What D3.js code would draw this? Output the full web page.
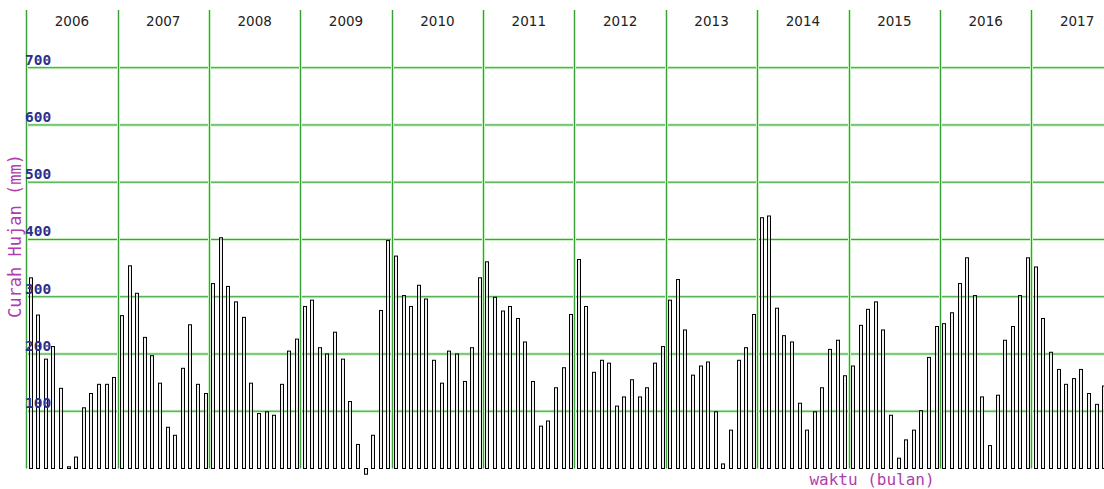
<!DOCTYPE html>
<html>
<head>
<meta charset="utf-8">
<script src="https://cdn.jsdelivr.net/npm/d3@7"></script>
<style>
  body { margin: 0; background: #fff; }
  svg { display: block; }
</style>
</head>
<body>
<div id="chart"></div>
<script>
(() => {
  const width = 1104;
  const height = 489;

  // monthly rainfall (mm), Jan 2006 onward
  const years = [2006, 2007, 2008, 2009, 2010, 2011, 2012, 2013, 2014, 2015, 2016, 2017];
  const yTicks = [100, 200, 300, 400, 500, 600, 700];
  const rain = [
    333, 268, 191, 213, 140, 3, 20, 106, 131, 147, 147, 159,
    267, 354, 306, 229, 197, 149, 72, 58, 175, 251, 147, 131,
    323, 403, 318, 291, 264, 149, 96, 99, 93, 147, 205, 226,
    283, 294, 211, 200, 238, 191, 117, 42, -10, 58, 276, 398,
    371, 302, 283, 320, 296, 189, 149, 205, 200, 152, 211, 333,
    361, 299, 275, 283, 262, 221, 152, 74, 83, 141, 176, 269,
    365, 283, 168, 189, 184, 109, 125, 155, 125, 141, 184, 213,
    294, 330, 242, 163, 179, 186, 99, 8, 67, 189, 211, 269,
    438, 441, 280, 232, 221, 114, 67, 99, 141, 208, 224, 162,
    179, 250, 278, 291, 242, 93, 18, 50, 67, 101, 194, 248,
    253, 272, 323, 368, 302, 125, 40, 128, 224, 248, 302, 368,
    352, 262, 203, 173, 147, 157, 173, 131, 112, 144
  ];
  const yLabel = "Curah Hujan (mm)";
  const xLabel = "waktu (bulan)";

  const nMonths = years.length * 12;
  const x = d3.scaleLinear().domain([0, nMonths]).range([26.2, 26.2 + nMonths * 7.615]);
  const y = d3.scaleLinear().domain([0, 700]).range([468.5, 67.7]);

  const svg = d3
    .select("#chart")
    .append("svg")
    .attr("width", width)
    .attr("height", height);

  const grid = svg.append("g");
  const gridColor = "#3a9e3a";
  const haloColor = "#c8f2c2";

  // horizontal grid
  yTicks.forEach((t) => {
    grid.append("line")
      .attr("x1", x(0)).attr("x2", width)
      .attr("y1", y(t)).attr("y2", y(t))
      .attr("stroke", haloColor).attr("stroke-width", 3);
    grid.append("line")
      .attr("x1", x(0)).attr("x2", width)
      .attr("y1", y(t)).attr("y2", y(t))
      .attr("stroke", gridColor).attr("stroke-width", 1);
  });

  // vertical year lines
  years.forEach((yr, i) => {
    const xp = Math.round(x(i * 12)) + 0.5;
    grid.append("line")
      .attr("x1", xp).attr("x2", xp)
      .attr("y1", 10).attr("y2", y(0))
      .attr("stroke", haloColor).attr("stroke-width", 3);
    grid.append("line")
      .attr("x1", xp).attr("x2", xp)
      .attr("y1", 10).attr("y2", y(0))
      .attr("stroke", gridColor).attr("stroke-width", 1);
  });

  // year labels
  svg.append("g")
    .selectAll("text")
    .data(years)
    .join("text")
    .attr("x", (d, i) => x(i * 12 + 6))
    .attr("y", 26)
    .attr("text-anchor", "middle")
    .style("font-family", "'DejaVu Sans', sans-serif")
    .style("font-size", "13.5px")
    .attr("fill", "#222")
    .text((d) => d);

  // bars
  const bw = 3;
  svg.append("g")
    .selectAll("rect")
    .data(rain)
    .join("rect")
    .attr("x", (d, i) => Math.round(x(i + 0.5) - bw / 2) + 0.5)
    .attr("y", (d) => y(Math.max(0, d)))
    .attr("width", bw)
    .attr("height", (d) => Math.abs(y(d) - y(0)))
    .attr("fill", "#e6e6e6")
    .attr("fill-opacity", 0.6)
    .attr("stroke", "#000")
    .attr("stroke-width", 1);

  // y tick labels
  svg.append("g")
    .selectAll("text")
    .data(yTicks)
    .join("text")
    .attr("x", 25)
    .attr("y", (d) => y(d) - 3)
    .style("font-family", "'DejaVu Sans Mono', monospace")
    .style("font-size", "14.5px")
    .style("font-weight", "bold")
    .attr("fill", "#2f2f8c")
    .text((d) => d);

  // axis titles
  svg.append("text")
    .attr("transform", "translate(21,236) rotate(-90)")
    .attr("text-anchor", "middle")
    .style("font-family", "'DejaVu Sans Mono', monospace")
    .style("font-size", "17px")
    .attr("fill", "#b03cb0")
    .text(yLabel);

  svg.append("text")
    .attr("x", 872)
    .attr("y", 485)
    .attr("text-anchor", "middle")
    .style("font-family", "'DejaVu Sans Mono', monospace")
    .style("font-size", "16px")
    .attr("fill", "#b03cb0")
    .text(xLabel);
})();
</script>
</body>
</html>
